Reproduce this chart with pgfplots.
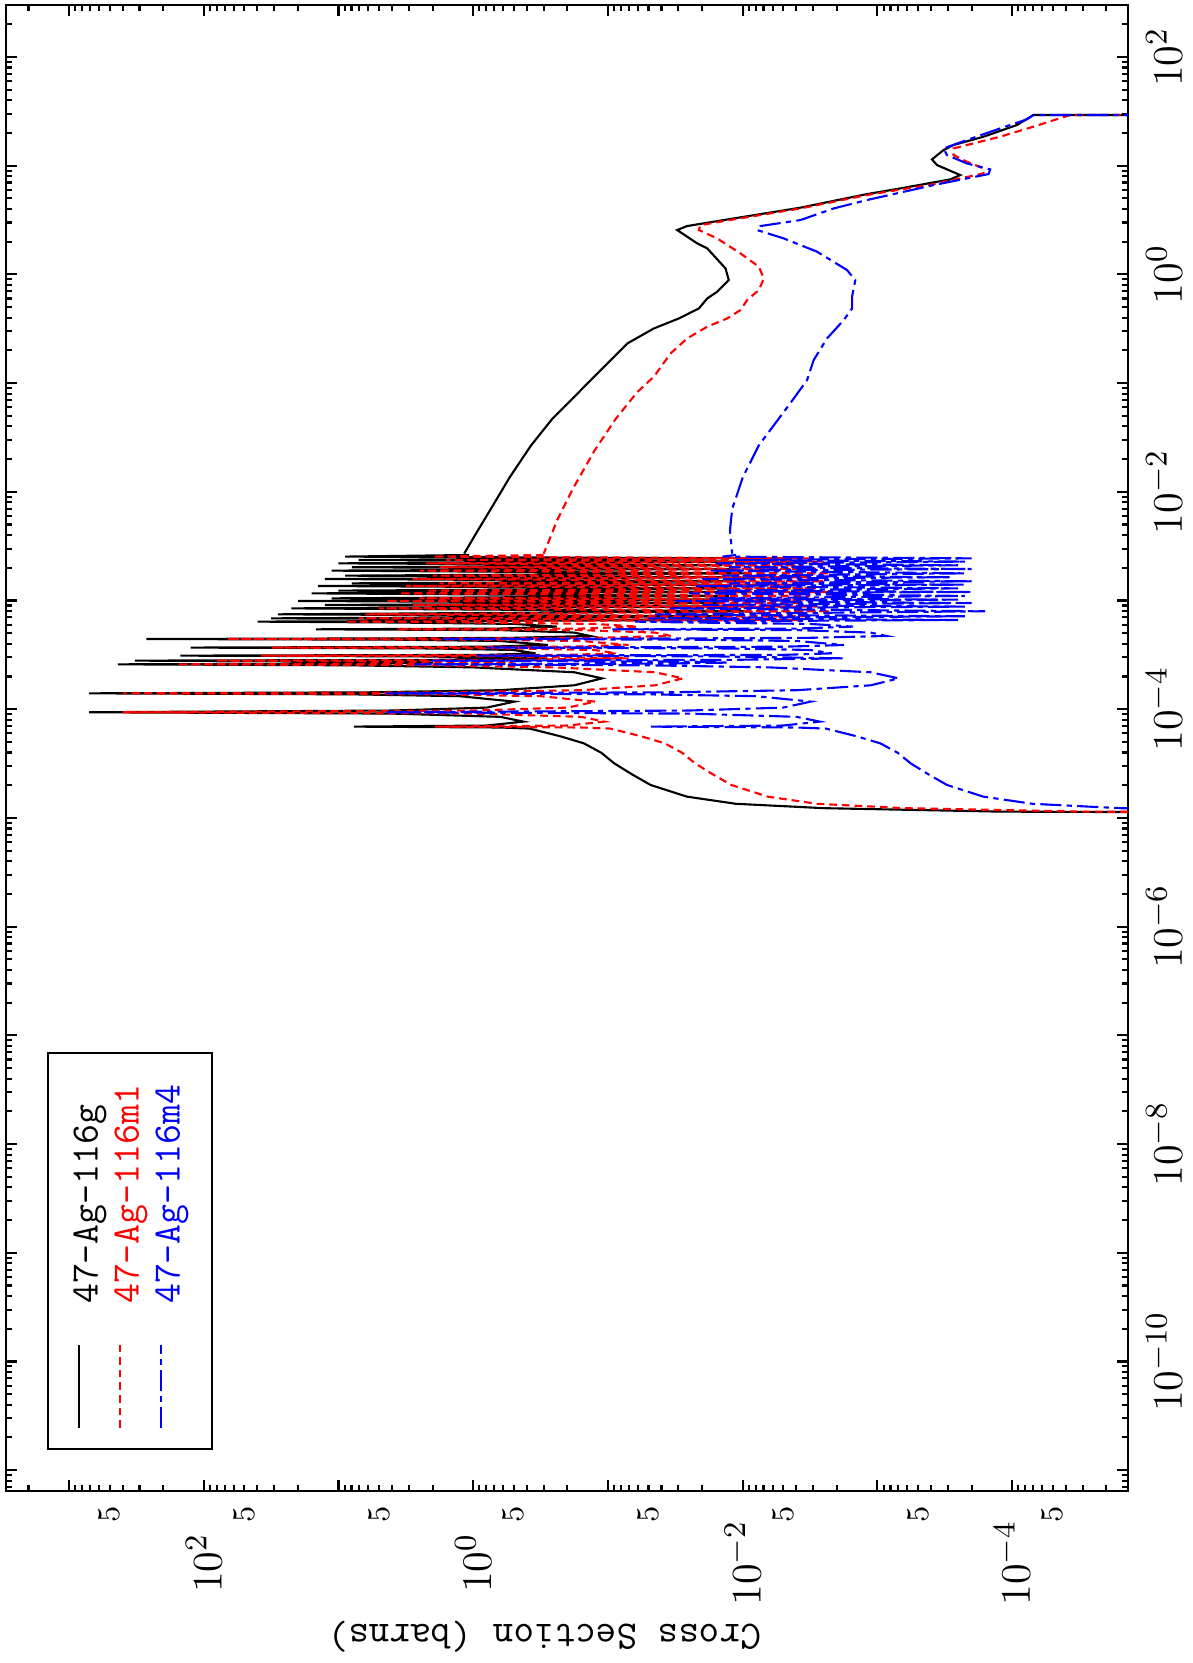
\documentclass[border=0pt]{standalone}
\usepackage{fontspec}
\usepackage{pgfplots}
\usepackage{pgfplotstable}
\pgfplotsset{compat=1.18}
\usetikzlibrary{calc}

\pgfplotstableread{
E s
29.3 1e-8
29.24 6.950e-5
23.66 9.226e-5
18.49 1.629e-4
15.49 2.723e-4
13.93 3.228e-4
11.43 3.936e-4
10.14 3.614e-4
8.204 2.427e-4
7.482 2.877e-4
6.180 6.761e-4
5.483 1.194e-3
4.111 3.724e-3
3.273 1.164e-2
2.786 2.582e-2
2.559 3.062e-2
1.928 2.173e-2
1.734 1.832e-2
1.135 1.340e-2
0.8872 1.268e-2
0.6934 1.545e-2
0.6012 1.832e-2
0.4864 2.113e-2
0.3936 2.972e-2
0.3184 4.560e-2
0.2317 7.178e-2
0.1318 1.132e-1
8.204e-2 1.652e-1
4.677e-2 2.594e-1
2.667e-2 3.724e-1
1.361e-2 5.358e-1
6.934e-3 7.413e-1
4.426e-3 9.226e-1
2.698e-3 1.167
}\blackhi

\pgfplotstableread{
E s
29.3 1e-8
29.24 3.715e-5
22.86 6.950e-5
18.49 1.227e-4
15.49 2.168e-4
14.42 2.723e-4
12.53 2.723e-4
10.89 2.168e-4
9.441 1.629e-4
8.492 1.629e-4
7.638 2.427e-4
6.776 3.828e-4
5.370 1.194e-3
4.046 3.724e-3
3.206 1.164e-2
2.844 2.056e-2
2.559 2.113e-2
2.143 1.545e-2
1.560 1.038e-2
1.178 7.586e-3
0.9183 6.966e-3
0.7178 7.586e-3
0.5808 9.268e-3
0.4699 1.038e-2
0.3936 1.303e-2
0.3304 1.832e-2
0.2576 2.582e-2
0.1875 3.428e-2
0.1146 4.560e-2
8.204e-2 6.095e-2
4.677e-2 8.770e-2
2.388e-2 1.259e-1
1.086e-2 1.807e-1
5.546e-3 2.371e-1
3.162e-3 2.844e-1
2.698e-3 2.999e-1
}\redhi

\pgfplotstableread{
E s
29.3 1e-8
29.24 6.950e-5
26.67 7.780e-5
22.03 1.227e-4
17.22 2.168e-4
14.42 3.228e-4
12.53 3.048e-4
10.50 2.168e-4
9.247 1.455e-4
8.375 1.496e-4
7.638 2.168e-4
6.637 3.828e-4
4.831 1.194e-3
4.046 2.109e-3
3.162 3.724e-3
2.786 7.379e-3
2.559 7.816e-3
2.143 4.955e-3
1.618 2.805e-3
1.096 1.679e-3
0.8872 1.459e-3
0.6237 1.542e-3
0.4864 1.542e-3
0.3802 1.778e-3
0.2576 2.366e-3
0.1629 2.972e-3
0.1067 3.327e-3
6.561e-2 4.416e-3
4.188e-2 5.794e-3
2.667e-2 7.603e-3
1.361e-2 9.977e-3
6.934e-3 1.197e-2
4.426e-3 1.242e-2
2.698e-3 1.197e-2
}\bluehi

\pgfplotstableread{
E b r u
2.624e-3 1.074 3.0e-1 1.12e-2
2.535e-3 8.913 1.995 1.413e-2
2.443e-3 1.259e-2 3.162e-3 1.995e-4
2.360e-3 7.079 1.585 1.122e-2
2.280e-3 1.0e-2 2.512e-3 2.239e-4
2.198e-3 10.0 2.239 1.585e-2
2.109e-3 1.413e-2 3.548e-3 2.512e-4
2.023e-3 7.943 1.778 1.259e-2
1.950e-3 1.122e-2 2.818e-3 1.995e-4
1.884e-3 11.22 2.512 1.778e-2
1.778e-3 8.913e-3 2.239e-3 2.239e-4
1.694e-3 8.913 1.995 1.413e-2
1.637e-3 1.259e-2 3.162e-3 2.818e-4
1.578e-3 12.59 2.818 1.995e-2
1.503e-3 1.0e-2 2.512e-3 1.995e-4
1.439e-3 7.943 1.778 1.259e-2
1.400e-3 1.413e-2 3.548e-3 2.239e-4
1.361e-3 14.13 3.162 2.239e-2
1.294e-3 1.122e-2 2.818e-3 2.512e-4
1.233e-3 10.0 2.239 1.585e-2
1.199e-3 8.913e-3 2.239e-3 1.995e-4
1.164e-3 15.85 3.548 2.512e-2
1.102e-3 1.259e-2 3.162e-3 2.239e-4
1.047e-3 11.22 2.512 1.778e-2
1.019e-3 1.0e-2 2.512e-3 2.512e-4
9.908e-4 19.95 4.467 3.162e-2
9.484e-4 1.413e-2 3.548e-3 1.995e-4
9.099e-4 12.59 2.818 1.995e-2
8.790e-4 1.122e-2 2.818e-3 2.239e-4
8.472e-4 22.39 5.012 3.548e-2
7.962e-4 8.913e-3 2.239e-3 1.585e-4
7.464e-4 28.18 6.310 4.467e-2
7.161e-4 1.259e-2 3.162e-3 2.239e-4
6.855e-4 31.62 7.079 5.012e-2
6.622e-4 1.413e-2 3.548e-3 2.512e-4
6.397e-4 39.81 8.913 6.310e-2
6.281e-4 3.981 1.0 2.512e-2
6.095e-4 0.5012 0.1259 3.162e-3
5.754e-4 0.2399 6.026e-2 1.514e-3
5.521e-4 0.6310 0.1585 3.981e-3
5.433e-4 14.72 3.698 9.290e-2
5.346e-4 0.6310 0.1585 3.981e-3
5.070e-4 0.1778 4.467e-2 1.122e-3
4.721e-4 0.1358 3.412e-2 8.570e-4
4.539e-4 0.5012 0.1259 3.162e-3
4.487e-4 3.162 0.7943 1.995e-2
4.426e-4 266.7 66.99 1.683
4.365e-4 3.981 1.0 2.512e-2
4.246e-4 0.6310 0.1585 3.981e-3
3.899e-4 0.2799 7.031e-2 1.766e-3
3.758e-4 0.7943 0.1995 5.012e-3
3.690e-4 125.3 31.48 0.7907
3.622e-4 1.995 0.5012 1.259e-2
3.508e-4 0.5012 0.1259 3.162e-3
3.266e-4 0.3443 8.650e-2 2.173e-3
3.162e-4 0.7943 0.1995 5.012e-3
3.112e-4 149.3 37.50 0.9419
3.062e-4 2.512 0.6310 1.585e-2
2.938e-4 0.2799 7.031e-2 1.766e-3
2.844e-4 1.995 0.5012 1.259e-2
2.799e-4 324.3 81.47 2.046
2.742e-4 3.981 1.0 2.512e-2
2.685e-4 1.995 0.5012 1.259e-2
2.630e-4 6.310 1.585 3.981e-2
2.588e-4 433.5 158.5 2.735
2.535e-4 7.943 1.995 5.012e-2
2.427e-4 1.0 0.2512 6.310e-3
2.188e-4 0.1778 4.467e-2 1.122e-3
1.923e-4 0.1104 2.773e-2 6.966e-4
1.660e-4 0.1778 4.467e-2 1.122e-3
1.496e-4 0.6310 0.1585 3.981e-3
1.429e-4 6.310 1.585 3.981e-2
1.400e-4 707.9 398.1 4.467
1.371e-4 7.943 1.995 5.012e-2
1.318e-4 1.259 0.3162 7.943e-3
1.175e-4 0.4943 0.1242 3.119e-3
1.035e-4 0.7943 0.1995 5.012e-3
9.727e-5 3.981 1.0 2.512e-2
9.376e-5 707.9 398.1 4.467
9.120e-5 3.981 1.0 2.512e-2
8.511e-5 0.6310 0.1585 3.981e-3
7.691e-5 0.4236 0.1064 2.673e-3
7.079e-5 0.7943 0.1995 5.012e-3
6.918e-5 7.674 1.928 4.842e-2
6.792e-5 0.6310 0.1585 3.981e-3
6.637e-5 0.3819 9.594e-2 2.410e-3
5.623e-5 0.2239 5.623e-2 1.413e-3
4.853e-5 0.1507 3.784e-2 9.506e-4
3.981e-5 0.1122 2.818e-2 7.079e-4
3.177e-5 8.974e-2 2.254e-2 5.662e-4
2.512e-5 6.607e-2 1.660e-2 4.169e-4
2.009e-5 4.819e-2 1.211e-2 3.041e-4
1.570e-5 2.594e-2 6.516e-3 1.637e-4
1.349e-5 1.122e-2 2.818e-3 7.079e-5
1.230e-5 2.512e-3 6.310e-4 1.585e-5
1.143e-5 1.222e-4 3.069e-5 7.709e-7
1.109e-5 1e-7 1e-8 1e-9
}\res

\begin{document}
\begin{tikzpicture}[rotate=90, transform shape]
\begin{axis}[
 name=ax,
 scale only axis, width=14.86cm, height=11.22cm,
 xmode=log, ymode=log,
 xmin=6.43e-12, xmax=300.9, ymin=1.38e-5, ymax=2936,
 axis line style={line width=0.8pt},
 tick align=inside,
 major tick length=0.11cm, minor tick length=0.06cm,
 tick style={black, line width=0.6pt},
 xtick={1e-11,1e-10,1e-9,1e-8,1e-7,1e-6,1e-5,1e-4,1e-3,1e-2,1e-1,1,10,100},
 xticklabels={,$10^{-10}$,,$10^{-8}$,,$10^{-6}$,,$10^{-4}$,,$10^{-2}$,,$10^{0}$,,$10^{2}$},
 minor xtick={7e-12,8e-12,9e-12,
  2e-11,3e-11,4e-11,5e-11,6e-11,7e-11,8e-11,9e-11,
  2e-10,3e-10,4e-10,5e-10,6e-10,7e-10,8e-10,9e-10,
  2e-9,3e-9,4e-9,5e-9,6e-9,7e-9,8e-9,9e-9,
  2e-8,3e-8,4e-8,5e-8,6e-8,7e-8,8e-8,9e-8,
  2e-7,3e-7,4e-7,5e-7,6e-7,7e-7,8e-7,9e-7,
  2e-6,3e-6,4e-6,5e-6,6e-6,7e-6,8e-6,9e-6,
  2e-5,3e-5,4e-5,5e-5,6e-5,7e-5,8e-5,9e-5,
  2e-4,3e-4,4e-4,5e-4,6e-4,7e-4,8e-4,9e-4,
  2e-3,3e-3,4e-3,5e-3,6e-3,7e-3,8e-3,9e-3,
  2e-2,3e-2,4e-2,5e-2,6e-2,7e-2,8e-2,9e-2,
  2e-1,3e-1,4e-1,5e-1,6e-1,7e-1,8e-1,9e-1,
  2,3,4,5,6,7,8,9,
  20,30,40,50,60,70,80,90,
  200},
 ytick={1e-5,1e-4,1e-3,1e-2,1e-1,1,10,100,1000},
 yticklabels={,$10^{-4}$,,$10^{-2}$,,$10^{0}$,,$10^{2}$,},
 minor ytick={2e-5,3e-5,4e-5,5e-5,6e-5,7e-5,8e-5,9e-5,
  2e-4,3e-4,4e-4,5e-4,6e-4,7e-4,8e-4,9e-4,
  2e-3,3e-3,4e-3,5e-3,6e-3,7e-3,8e-3,9e-3,
  2e-2,3e-2,4e-2,5e-2,6e-2,7e-2,8e-2,9e-2,
  2e-1,3e-1,4e-1,5e-1,6e-1,7e-1,8e-1,9e-1,
  2,3,4,5,6,7,8,9,
  20,30,40,50,60,70,80,90,
  200,300,400,500,600,700,800,900,
  2000},
 extra y ticks={5e-5,5e-4,5e-3,5e-2,5e-1,5,50,500},
 extra y tick labels={5,5,5,5,5,5,5,5},
 extra y tick style={major tick length=0pt, yticklabel style={font=\fontsize{9}{10}\selectfont, xshift=0.49cm}},
 xticklabel style={font=\fontsize{12.5}{14}\selectfont, anchor=center, yshift=-0.36cm},
 yticklabel style={font=\fontsize{13}{15}\selectfont, anchor=center, xshift=-0.72cm},
 ylabel={Cross Section (barns)},
 ylabel style={at={(axis description cs:-0.098,0.52)}, anchor=center, font=\fontsize{11.4}{13}\selectfont\ttfamily},
 legend cell align=left,
 legend image code/.code={\draw[#1, line width=0.6pt] (0cm,0.1cm) -- (0.83cm,0.1cm);},
 legend style={at={(0.0276,0.9635)}, anchor=north west, draw=black, line width=0.6pt,
   inner xsep=0.2cm, inner ysep=0.245cm, row sep=0.08cm, column sep=0.4cm,
   font=\fontsize{11}{13}\selectfont\ttfamily,
   nodes={inner sep=0pt, text height=0.25cm, text depth=0.08cm}},
]
\addplot[black, line width=0.6pt] table[x=E,y=s]{\blackhi};
\addplot[black, line width=0.6pt, forget plot] table[x=E,y=b]{\res};
\addplot[red, line width=0.6pt, dash pattern=on 2.2pt off 1.4pt] table[x=E,y=s]{\redhi};
\addplot[red, line width=0.6pt, dash pattern=on 2.2pt off 1.4pt, forget plot] table[x=E,y=r]{\res};
\addplot[blue, line width=0.6pt, dash pattern=on 6pt off 1.5pt on 1.5pt off 1.5pt] table[x=E,y=s]{\bluehi};
\addplot[blue, line width=0.6pt, dash pattern=on 6pt off 1.5pt on 1.5pt off 1.5pt, forget plot] table[x=E,y=u]{\res};
\legend{47-Ag-116g, \textcolor{red}{47-Ag-116m1\hspace*{0.12cm}}, \textcolor{blue}{47-Ag-116m4}}
\end{axis}
\pgfresetboundingbox
\path ($(ax.south west)+(-1.72cm,-0.64cm)$) rectangle ($(ax.north east)+(0.05cm,0.06cm)$);
\end{tikzpicture}
\end{document}
